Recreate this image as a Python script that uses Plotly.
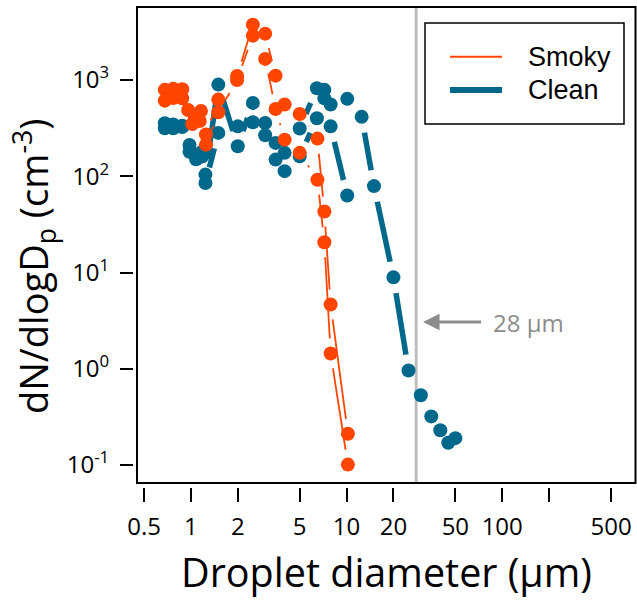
import numpy as np
import plotly.graph_objects as go

# ---------------- data ----------------
smoky_a_d = [0.68, 0.77, 0.88, 0.96, 1.06, 1.16, 1.25, 1.5, 1.98, 2.5, 3.0, 3.5, 4.0, 5.0, 6.5, 7.2, 7.9, 10.2]
smoky_a_n = [790, 810, 800, 488, 413, 476, 271, 626, 1100, 3760, 3030, 1110, 556, 444, 246, 43, 4.65, 0.211]
smoky_b_d = [0.68, 0.77, 0.88, 1.02, 1.14, 1.25, 1.5, 1.98, 2.5, 3.0, 3.5, 4.0, 5.0, 6.5, 7.2, 7.9, 10.2]
smoky_b_n = [610, 650, 645, 349, 375, 213, 462, 1000, 2890, 1656, 500, 240, 175, 92, 20.6, 1.44, 0.101]

clean_a_d = [0.68, 0.77, 0.88, 0.98, 1.08, 1.18, 1.24, 1.5, 2.0, 2.5, 3.0, 3.5, 4.0, 5.0, 6.45, 7.2, 7.9,
             10.1, 12.5, 15.0, 20.0, 25.0, 30.0, 35.0, 40.0, 45.0, 50.0]
clean_a_n = [355, 345, 335, 211, 167, 180, 104, 896, 205, 578, 358, 222, 175, 313, 820, 790, 556,
             637, 414, 79, 8.9, 0.96, 0.53, 0.32, 0.23, 0.17, 0.19]
clean_b_d = [0.68, 0.77, 0.88, 0.98, 1.08, 1.18, 1.24, 1.5, 2.0, 2.5, 3.0, 3.5, 4.0, 5.0, 6.45, 7.2, 7.9, 10.1]
clean_b_n = [315, 315, 325, 180, 150, 160, 85, 282, 330, 364, 267, 149, 113, 161, 400, 645, 330, 63]

x_tickvals = [0.5, 1, 2, 5, 10, 20, 50, 100, 500]
x_ticktext = ["0.5", "1", "2", "5", "10", "20", "50", "100", "500"]
x_unlabeled_ticks = [200]
y_tickvals = [0.1, 1, 10, 100, 1000]
y_ticktext = ["10<sup>-1</sup>", "10<sup>0</sup>", "10<sup>1</sup>", "10<sup>2</sup>", "10<sup>3</sup>"]
cutoff_um = 28
cutoff_label = "28 µm"

# ---------------- styling / geometry ----------------
SMOKY = "#FF4500"
CLEAN = "#00688B"
W, H = 637, 603
ML, MR, MT, MB = 134, 1, 7, 116
PW, PH = W - ML - MR, H - MT - MB
x_range = [-0.3655, 2.8593]
y_range = [-1.2286, 3.7584]
kx = PW / (x_range[1] - x_range[0])
ky = PH / (y_range[1] - y_range[0])


def px_x(p):
    return (p - ML) / PW


def px_y(p):
    return (H - MB - p) / PH


def gapped(d, n, gap):
    """line segments between consecutive points, trimmed by `gap` pixels at each end"""
    lx, ly = np.log10(d), np.log10(n)
    xs, ys = [], []
    for i in range(len(d) - 1):
        ddx, ddy = lx[i + 1] - lx[i], ly[i + 1] - ly[i]
        L = np.hypot(ddx * kx, ddy * ky)
        if L <= 2 * gap:
            continue
        t0, t1 = gap / L, 1 - gap / L
        xs += [10 ** (lx[i] + t0 * ddx), 10 ** (lx[i] + t1 * ddx), None]
        ys += [10 ** (ly[i] + t0 * ddy), 10 ** (ly[i] + t1 * ddy), None]
    return xs, ys


fig = go.Figure()

for d, n in [(clean_a_d, clean_a_n), (clean_b_d, clean_b_n)]:
    gx, gy = gapped(d, n, 16)
    fig.add_trace(go.Scatter(x=gx, y=gy, mode="lines", line=dict(color=CLEAN, width=5.5),
                             connectgaps=False, showlegend=False, hoverinfo="skip"))
for d, n in [(clean_a_d, clean_a_n), (clean_b_d, clean_b_n)]:
    fig.add_trace(go.Scatter(x=d, y=n, mode="markers", marker=dict(color=CLEAN, size=14, line=dict(width=0)),
                             showlegend=False, name="Clean"))
for d, n in [(smoky_a_d, smoky_a_n), (smoky_b_d, smoky_b_n)]:
    gx, gy = gapped(d, n, 15)
    fig.add_trace(go.Scatter(x=gx, y=gy, mode="lines", line=dict(color=SMOKY, width=1.8),
                             connectgaps=False, showlegend=False, hoverinfo="skip"))
for d, n in [(smoky_a_d, smoky_a_n), (smoky_b_d, smoky_b_n)]:
    fig.add_trace(go.Scatter(x=d, y=n, mode="markers", marker=dict(color=SMOKY, size=14, line=dict(width=0)),
                             showlegend=False, name="Smoky"))

shapes = [
    # cut-off line
    dict(type="line", xref="x", yref="paper", x0=cutoff_um, x1=cutoff_um, y0=px_y(483), y1=1,
         line=dict(color="#BEBEBE", width=3), layer="below"),
    # frame
    dict(type="rect", xref="paper", yref="paper", x0=px_x(137), x1=px_x(635.5), y0=px_y(483), y1=px_y(7),
         line=dict(color="black", width=2)),
    # legend box
    dict(type="rect", xref="paper", yref="paper", x0=px_x(425), x1=px_x(624), y0=px_y(124), y1=px_y(23),
         line=dict(color="black", width=1.5), fillcolor="white"),
    dict(type="line", xref="paper", yref="paper", x0=px_x(450), x1=px_x(502), y0=px_y(56.7), y1=px_y(56.7),
         line=dict(color=SMOKY, width=2)),
    dict(type="line", xref="paper", yref="paper", x0=px_x(450), x1=px_x(502), y0=px_y(90), y1=px_y(90),
         line=dict(color=CLEAN, width=6)),
]

annotations = [
    dict(text="Smoky", xref="paper", yref="paper", x=px_x(526), y=px_y(57), xanchor="left", yanchor="middle",
         showarrow=False, font=dict(family="Liberation Sans, Arial", size=27, color="black")),
    dict(text="Clean", xref="paper", yref="paper", x=px_x(526), y=px_y(90), xanchor="left", yanchor="middle",
         showarrow=False, font=dict(family="Liberation Sans, Arial", size=27, color="black")),
    # arrow with its label
    dict(text=cutoff_label, x=np.log10(31.0), y=np.log10(3.06), xref="x", yref="y", showarrow=True,
         ax=105, ay=0, xanchor="center", yanchor="middle", borderpad=11,
         arrowcolor="#8C8C8C", arrowwidth=3, arrowhead=2, arrowsize=1.1, standoff=0,
         font=dict(family="Open Sans", size=24, color="#8C8C8C")),
    # axis titles
    dict(text="Droplet diameter (µm)", xref="paper", yref="paper", x=px_x(386), y=px_y(572),
         xanchor="center", yanchor="middle", showarrow=False,
         font=dict(family="Open Sans", size=39.5, color="black")),
    dict(text="dN/dlogD<sub>p</sub> (cm<sup>-3</sup>)", xref="paper", yref="paper", x=px_x(34), y=px_y(267),
         xanchor="center", yanchor="middle", textangle=-90, showarrow=False,
         font=dict(family="Open Sans", size=38, color="black")),
]

fig.update_layout(
    width=W, height=H, margin=dict(l=ML, r=MR, t=MT, b=MB, pad=0),
    paper_bgcolor="white", plot_bgcolor="white",
    showlegend=False, shapes=shapes, annotations=annotations,
    xaxis=dict(type="log", range=x_range, tickvals=x_tickvals, ticktext=x_ticktext,
               ticks="outside", ticklen=14, tickwidth=1.5, tickcolor="black",
               minor=dict(tickvals=x_unlabeled_ticks, ticks="outside", ticklen=14, tickwidth=1.5,
                          tickcolor="black", showgrid=False),
               showline=False, showgrid=False, zeroline=False, ticklabelstandoff=4,
               tickfont=dict(family="Open Sans", size=24, color="black")),
    yaxis=dict(type="log", range=y_range, tickvals=y_tickvals, ticktext=y_ticktext,
               ticks="outside", ticklen=13, tickwidth=1.5, tickcolor="black",
               showline=False, showgrid=False, zeroline=False, ticklabelstandoff=6,
               tickfont=dict(family="Open Sans", size=24, color="black")),
)

fig.write_html("out.html", config={"displayModeBar": False},
               post_script="document.body.style.margin='0';document.body.style.overflow='hidden';")
